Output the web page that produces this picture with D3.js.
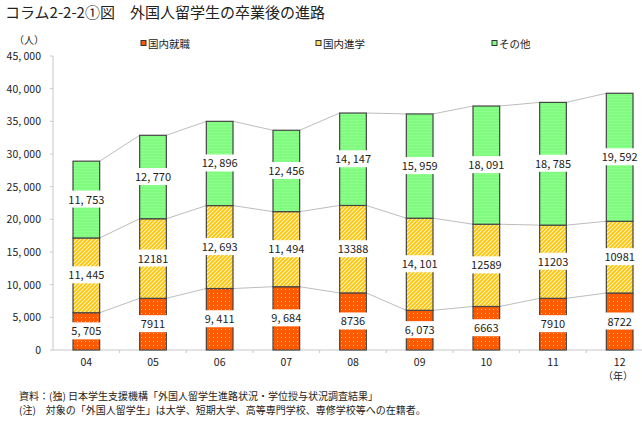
<!DOCTYPE html>
<html><head><meta charset="utf-8">
<script src="https://cdn.jsdelivr.net/npm/d3@7"></script>
<style>
body{margin:0;background:#fff;}
svg text{font-family:"Noto Sans CJK JP","Noto Sans",sans-serif;fill:#222;}
</style></head><body>
<svg id="c" width="642" height="424"></svg>
<script>
const years = ["04","05","06","07","08","09","10","11","12"];
const employment = [5705,7911,9411,9684,8736,6073,6663,7910,8722];
const furtherStudy = [11445,12181,12693,11494,13388,14101,12589,11203,10981];
const other = [11753,12770,12896,12456,14147,15959,18091,18785,19592];
const employmentLabels = ["5, 705","7911","9, 411","9, 684","8736","6, 073","6663","7910","8722"];
const furtherStudyLabels = ["11, 445","12181","12, 693","11, 494","13388","14, 101","12589","11203","10981"];
const otherLabels = ["11, 753","12, 770","12, 896","12, 456","14, 147","15, 959","18, 091","18, 785","19, 592"];
const seriesNames = ["国内就職","国内進学","その他"];
const yTicks = [0,5000,10000,15000,20000,25000,30000,35000,40000,45000];
const yTickLabels = ["0","5, 000","10, 000","15, 000","20, 000","25, 000","30, 000","35, 000","40, 000","45, 000"];

const svg = d3.select("#c");
const defs = svg.append("defs");
const p1 = defs.append("pattern").attr("id","pOrange").attr("patternUnits","userSpaceOnUse").attr("width",4).attr("height",4);
p1.append("rect").attr("width",4).attr("height",4).attr("fill","#ff5a00");
p1.append("rect").attr("x",1).attr("y",1).attr("width",1).attr("height",1).attr("fill","#ffc8a0");
const p2 = defs.append("pattern").attr("id","pYellow").attr("patternUnits","userSpaceOnUse").attr("width",4).attr("height",4);
p2.append("rect").attr("width",4).attr("height",4).attr("fill","#ffc400");
p2.append("path").attr("d","M-1,1 L1,-1 M0,4 L4,0 M3,5 L5,3").attr("stroke","#fff6d0").attr("stroke-width",1.1);
const p3 = defs.append("pattern").attr("id","pGreen").attr("patternUnits","userSpaceOnUse").attr("width",4).attr("height",3);
p3.append("rect").attr("width",4).attr("height",3).attr("fill","#80fb80");
p3.append("rect").attr("y",0).attr("width",4).attr("height",1).attr("fill","#8cff8c");
const fills = ["url(#pOrange)","url(#pYellow)","url(#pGreen)"];
const legendFills = ["#ff5a00","#ffe060","#80fb80"];

const x = d3.scaleBand().domain(years).range([53,653]).paddingInner(0.6).paddingOuter(0.3);
const y = d3.scaleLinear().domain([0,45000]).range([350,56]);

svg.append("text").attr("x",5).attr("y",18).attr("font-size",15).text("コラム2-2-2①図　外国人留学生の卒業後の進路");
svg.append("text").attr("x",14).attr("y",44).attr("font-size",10).text("（人）");

const lx = [141,316,492];
seriesNames.forEach((n,i)=>{
  svg.append("rect").attr("x",lx[i]).attr("y",40.5).attr("width",5).attr("height",5).attr("fill",legendFills[i]).attr("stroke","#333").attr("stroke-width",1);
  svg.append("text").attr("x",lx[i]+7).attr("y",48).attr("font-size",10.5).text(n);
});

svg.append("line").attr("x1",53).attr("x2",53).attr("y1",56).attr("y2",350).attr("stroke","#c8c8c8");
svg.append("line").attr("x1",53).attr("x2",642).attr("y1",350).attr("y2",350).attr("stroke","#c8c8c8");
yTicks.forEach((t,i)=>{
  svg.append("line").attr("x1",50).attr("x2",53).attr("y1",y(t)).attr("y2",y(t)).attr("stroke","#c8c8c8");
  svg.append("text").attr("x",41).attr("y",y(t)+4).attr("text-anchor","end").attr("font-size",10.5).text(yTickLabels[i]);
});
const step = x.step();
years.forEach((yr,i)=>{
  const bx = x(yr)+x.bandwidth()/2 + step/2;
  svg.append("line").attr("x1",bx).attr("x2",bx).attr("y1",350).attr("y2",353).attr("stroke","#c8c8c8");
  svg.append("text").attr("x",x(yr)+x.bandwidth()/2).attr("y",366).attr("text-anchor","middle").attr("font-size",10.5).text(yr);
});
svg.append("text").attr("x",618).attr("y",380).attr("text-anchor","middle").attr("font-size",10).text("（年）");

const data = years.map((yr,i)=>({yr, a:employment[i], b:furtherStudy[i], c:other[i]}));
const stack = d3.stack().keys(["a","b","c"])(data);
const labels = [employmentLabels, furtherStudyLabels, otherLabels];

stack.forEach((s)=>{
  for(let i=0;i<s.length-1;i++){
    svg.append("line")
      .attr("x1",x(years[i])+x.bandwidth()).attr("y1",y(s[i][1]))
      .attr("x2",x(years[i+1])).attr("y2",y(s[i+1][1]))
      .attr("stroke","#bdbdbd").attr("stroke-width",1);
  }
});

stack.forEach((s,k)=>{
  s.forEach((d,i)=>{
    svg.append("rect").attr("x",x(years[i])).attr("y",y(d[1]))
      .attr("width",x.bandwidth()).attr("height",y(d[0])-y(d[1]))
      .attr("fill",fills[k]).attr("stroke","#444").attr("stroke-width",1.2);
  });
});
stack.forEach((s,k)=>{
  s.forEach((d,i)=>{
    const cx = x(years[i])+x.bandwidth()/2, cy=(y(d[0])+y(d[1]))/2;
    const t = svg.append("text").attr("x",cx).attr("y",cy+4).attr("text-anchor","middle").attr("font-size",11).text(labels[k][i]);
    const bb = t.node().getBBox();
    svg.insert("rect", function(){return t.node();}).attr("x",bb.x-3).attr("y",cy-9).attr("width",bb.width+6).attr("height",17).attr("fill","#fff");
  });
});

svg.append("text").attr("x",19).attr("y",400).attr("font-size",10).text("資料：(独) 日本学生支援機構「外国人留学生進路状況・学位授与状況調査結果」");
svg.append("text").attr("x",19).attr("y",414).attr("font-size",10).text("(注)　対象の「外国人留学生」は大学、短期大学、高等専門学校、専修学校等への在籍者。");
</script></body></html>
